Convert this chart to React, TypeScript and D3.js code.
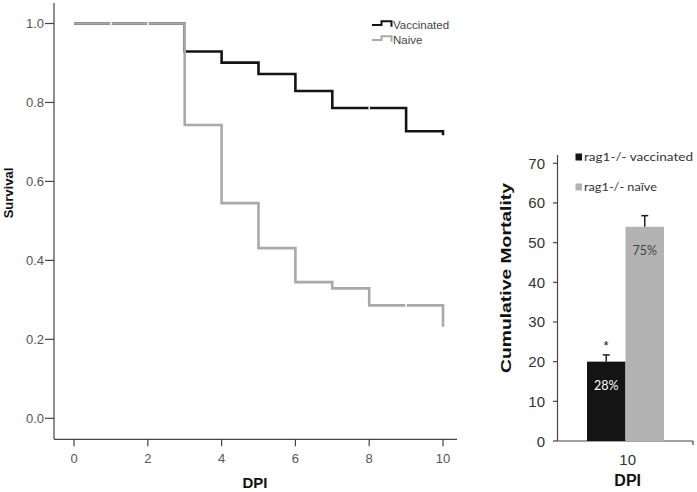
import React from "react";
import * as d3 from "d3";

// ---- Kaplan-Meier survival data (left panel) ----
const vaccinatedDays = [0, 3, 4, 5, 6, 7, 9, 10, 10];
const vaccinatedSurvival = [1.0, 0.929, 0.901, 0.872, 0.829, 0.786, 0.727, 0.727, 0.717];
const naiveDays = [0, 3, 4, 5, 6, 7, 8, 10, 10];
const naiveSurvival = [1.0, 0.743, 0.545, 0.431, 0.345, 0.329, 0.286, 0.286, 0.232];
const vaccinatedCensorDays = [8];
const vaccinatedCensorSurv = [0.786];
const naiveCensorDays = [1, 2, 9];
const naiveCensorSurv = [1.0, 1.0, 0.286];
const survivalTicks = [0.0, 0.2, 0.4, 0.6, 0.8, 1.0];
const dpiTicks = [0, 2, 4, 6, 8, 10];
const kmLegend = ["Vaccinated", "Naive"];

// ---- Cumulative mortality (right panel) ----
const groups = ["rag1-/- vaccinated", "rag1-/- naïve"];
const mortality = [20, 54];
const mortalityErr = [1.7, 2.8];
const percentLabels = ["28%", "75%"];
const mortalityTicks = [0, 10, 20, 30, 40, 50, 60, 70];
const barCategory = "10";

const FONT = "'Liberation Sans', Arial, sans-serif";
const CAL = "Lato, 'Open Sans', sans-serif";
const BLACK = "#141414";
const GRAY = "#a9a9a9";

export default function App() {
  // left scales
  const x = d3.scaleLinear().domain([0, 10]).range([74, 443]);
  const y = d3.scaleLinear().domain([0, 1]).range([418.3, 23.5]);
  const line = d3
    .line<[number, number]>()
    .x((d) => x(d[0]))
    .y((d) => y(d[1]))
    .curve(d3.curveStepAfter);
  const vacPts = vaccinatedDays.map((d, i) => [d, vaccinatedSurvival[i]] as [number, number]);
  const naivePts = naiveDays.map((d, i) => [d, naiveSurvival[i]] as [number, number]);

  // right scales
  const yR = d3.scaleLinear().domain([0, 70]).range([441, 163.3]);
  const xR = d3.scaleBand().domain(groups).range([587, 664]).padding(0);
  const barColors = [BLACK, "#b3b3b3"];

  const axisY = 439.3;
  const axisX = 54;

  return (
    <svg width={697} height={492} style={{ position: "absolute", left: 0, top: 0, background: "#fff" }}>
      <rect width={697} height={492} fill="#fff" />
      {/* ---------- left KM plot ---------- */}
      <line x1={axisX} x2={axisX} y1={3} y2={axisY} stroke="#444" strokeWidth={1.2} />
      <line x1={axisX} x2={457} y1={axisY} y2={axisY} stroke="#444" strokeWidth={1.2} />
      {survivalTicks.map((t) => (
        <g key={"yt" + t}>
          <line x1={axisX - 9} x2={axisX} y1={y(t)} y2={y(t)} stroke="#444" strokeWidth={1.2} />
          <text x={axisX - 10} y={y(t) + 4.5} textAnchor="end" fontSize={13} fontFamily={FONT} fill="#555">
            {t.toFixed(1)}
          </text>
        </g>
      ))}
      {dpiTicks.map((t) => (
        <g key={"xt" + t}>
          <line x1={x(t)} x2={x(t)} y1={axisY} y2={axisY + 7} stroke="#444" strokeWidth={1.2} />
          <text x={x(t)} y={463} textAnchor="middle" fontSize={13} fontFamily={FONT} fill="#555">
            {t}
          </text>
        </g>
      ))}
      <text x={255} y={488} textAnchor="middle" fontSize={15} fontWeight="bold" fontFamily={FONT} fill="#111">
        DPI
      </text>
      <text
        transform="translate(13,193) rotate(-90)"
        textAnchor="middle"
        fontSize={13}
        fontWeight="bold"
        fontFamily={FONT}
        fill="#111"
      >
        Survival
      </text>
      <path d={line(vacPts) || ""} fill="none" stroke={BLACK} strokeWidth={2.6} />
      <path d={line(naivePts) || ""} fill="none" stroke={GRAY} strokeWidth={2.6} />
      {vaccinatedCensorDays.map((d, i) => (
        <line key={"vc" + i} x1={x(d)} x2={x(d)} y1={y(vaccinatedCensorSurv[i]) - 1.5} y2={y(vaccinatedCensorSurv[i]) + 1.5} stroke="#fff" strokeWidth={1.5} />
      ))}
      {naiveCensorDays.map((d, i) => (
        <line key={"nc" + i} x1={x(d)} x2={x(d)} y1={y(naiveCensorSurv[i]) - 1.5} y2={y(naiveCensorSurv[i]) + 1.5} stroke="#fff" strokeWidth={1.5} />
      ))}
      {/* KM legend */}
      {kmLegend.map((name, i) => {
        const by = 25 + i * 15;
        return (
          <g key={name}>
            <path
              d={`M372,${by} H381.5 V${by - 3.8} H391.5 V${by + 1.8}`}
              fill="none"
              stroke={i === 0 ? BLACK : GRAY}
              strokeWidth={2}
            />
            <text x={393} y={by + 3.5} fontSize={11.5} fontFamily={FONT} fill="#444">
              {name}
            </text>
          </g>
        );
      })}

      {/* ---------- right bar chart ---------- */}
      <line x1={557.5} x2={557.5} y1={155} y2={441} stroke="#444" strokeWidth={1.2} />
      <line x1={557.5} x2={693} y1={441} y2={441} stroke="#444" strokeWidth={1.2} />
      <line x1={693} x2={693} y1={441} y2={445} stroke="#444" strokeWidth={1.2} />
      {mortalityTicks.map((t) => (
        <g key={"mt" + t}>
          <line x1={553} x2={557.5} y1={yR(t)} y2={yR(t)} stroke="#444" strokeWidth={1.2} />
          <text x={545} y={yR(t) + 5.5} textAnchor="end" fontSize={15} fontFamily={FONT} fill="#333">
            {t}
          </text>
        </g>
      ))}
      {groups.map((g, i) => {
        const bx = xR(g) || 0;
        const bw = xR.bandwidth();
        const cx = bx + bw / 2;
        const top = yR(mortality[i]);
        const errTop = yR(mortality[i] + mortalityErr[i]);
        return (
          <g key={g}>
            <rect x={bx} y={top} width={bw} height={yR(0) - top} fill={barColors[i]} />
            <line x1={cx} x2={cx} y1={top} y2={errTop} stroke="#222" strokeWidth={1.5} />
            <line x1={cx - 3.5} x2={cx + 3.5} y1={errTop} y2={errTop} stroke="#222" strokeWidth={1.5} />
            <text
              x={cx}
              y={i === 0 ? 389.5 : 254.5}
              textAnchor="middle"
              fontSize={12.5}
              fontFamily={CAL}
              fill={i === 0 ? "#fff" : "#444"}
            >
              {percentLabels[i]}
            </text>
          </g>
        );
      })}
      <text x={606} y={350} textAnchor="middle" fontSize={13} fontFamily={FONT} fill="#222">
        *
      </text>
      <text x={627.7} y={465} textAnchor="middle" fontSize={15} fontFamily={FONT} fill="#333">
        {barCategory}
      </text>
      <text x={627.7} y={486} textAnchor="middle" fontSize={16} fontWeight="bold" fontFamily={FONT} fill="#111">
        DPI
      </text>
      <text
        transform="translate(511,278) rotate(-90)"
        textAnchor="middle"
        fontSize={14}
        fontWeight="bold"
        fontFamily={FONT}
        fill="#111"
        textLength={190}
        lengthAdjust="spacingAndGlyphs"
      >
        Cumulative  Mortality
      </text>
      {groups.map((g, i) => {
        const ly = 157 + i * 30;
        return (
          <g key={"lg" + g}>
            <rect x={575.5} y={ly - 3.5} width={6.5} height={7} fill={barColors[i]} />
            <text
              x={584}
              y={ly + 4}
              fontSize={12}
              fontFamily={CAL}
              fill="#333"
              textLength={i === 0 ? 109 : 73}
              lengthAdjust="spacingAndGlyphs"
            >
              {g}
            </text>
          </g>
        );
      })}
    </svg>
  );
}
